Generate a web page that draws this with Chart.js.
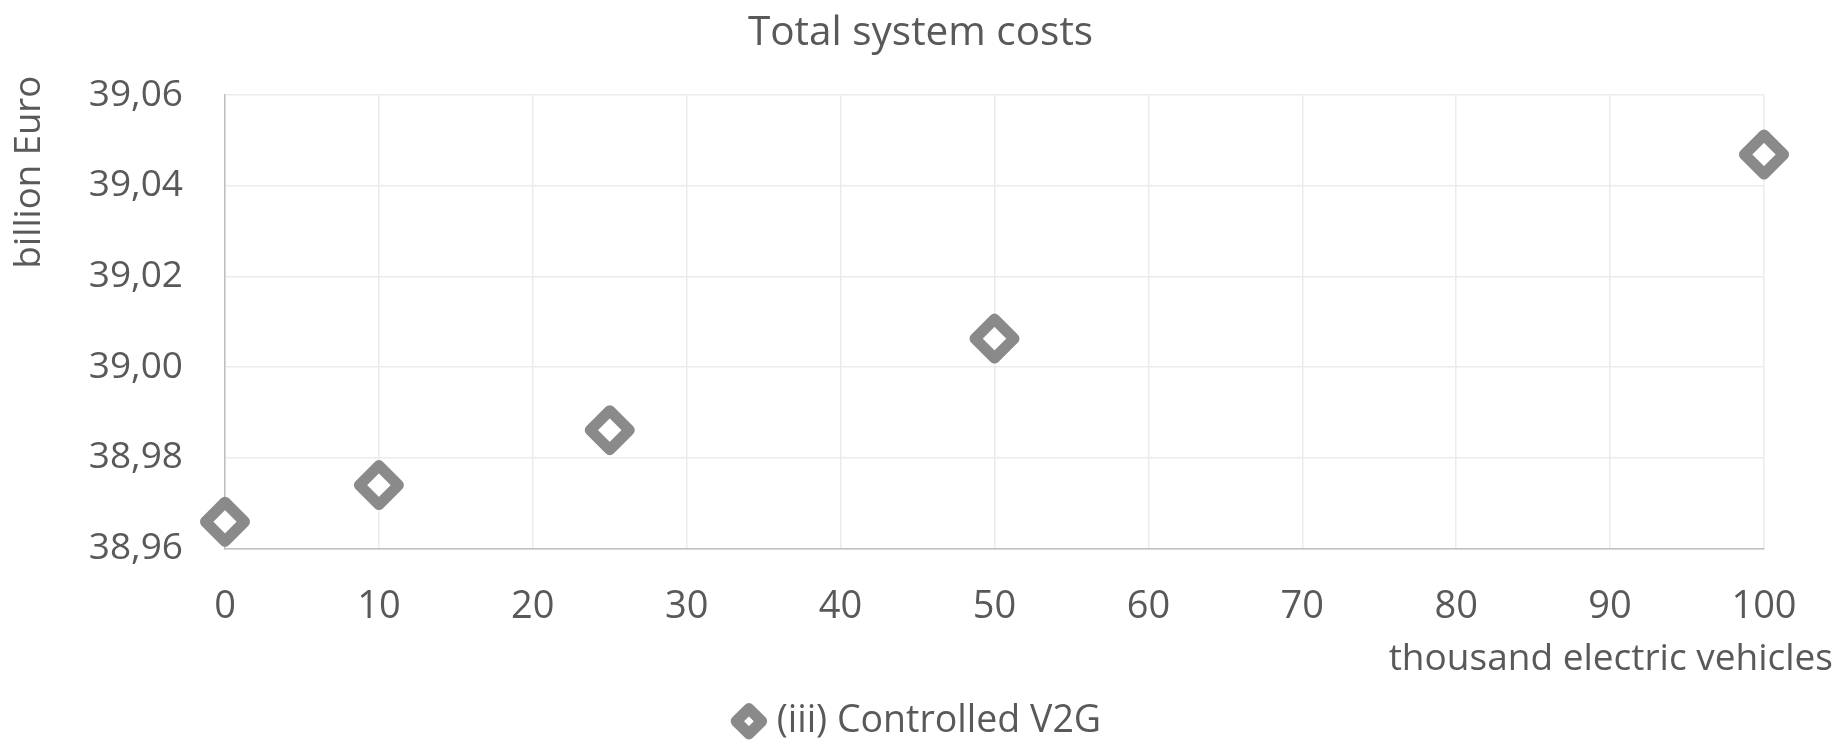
<!DOCTYPE html>
<html>
<head>
<meta charset="utf-8">
<script src="https://cdn.jsdelivr.net/npm/chart.js@4/dist/chart.umd.min.js"></script>
<style>
  html, body { margin: 0; padding: 0; background: #ffffff; }
  #wrap { width: 1841px; height: 741px; }
</style>
</head>
<body>
<div id="wrap"><canvas id="chart" width="1841" height="741"></canvas></div>
<script>
// Number of electric vehicles (thousand) and total system costs (billion Euro)
const evThousands = [0, 10, 25, 50, 100];
const totalCosts = [38.9659, 38.9740, 38.9861, 39.0063, 39.0469];
const seriesName = '(iii) Controlled V2G';

const chartTitle = 'Total system costs';
const yAxisTitle = 'billion Euro';
const xAxisTitle = 'thousand electric vehicles';

const xTicks = { min: 0, max: 100, step: 10 };
const yTicks = { min: 38.96, max: 39.06, step: 0.02 };

const FONT = '"Open Sans", "Noto Sans", sans-serif';
const TEXT = '#595959';
const MARK = '#8a8a8a';

// rounded corners on the diamond markers
const roundJoin = {
  id: 'roundJoin',
  beforeDatasetsDraw(chart) { chart.ctx.lineJoin = 'round'; }
};

// axis titles placed like the spreadsheet layout
const axisTitles = {
  id: 'axisTitles',
  afterDraw(chart) {
    const { ctx, chartArea } = chart;
    ctx.save();
    ctx.fillStyle = TEXT;
    ctx.font = '37px ' + FONT;
    ctx.textBaseline = 'middle';
    ctx.textAlign = 'right';
    ctx.fillText(xAxisTitle, chartArea.right + 69, chartArea.bottom + 111);
    ctx.translate(30, chartArea.top + 77);
    ctx.rotate(-Math.PI / 2);
    ctx.textAlign = 'center';
    ctx.font = '36.5px ' + FONT;
    ctx.fillText(yAxisTitle, 0, 0);
    ctx.restore();
  }
};

new Chart(document.getElementById('chart'), {
  type: 'scatter',
  data: {
    datasets: [{
      label: seriesName,
      data: evThousands.map((x, i) => ({ x, y: totalCosts[i] })),
      pointStyle: 'rectRot',
      pointRadius: 19.5,
      pointHoverRadius: 19.5,
      pointBorderWidth: 11,
      pointBackgroundColor: '#ffffff',
      pointBorderColor: MARK,
      clip: false
    }]
  },
  options: {
    responsive: false,
    animation: false,
    events: [],
    layout: { padding: { left: 77, right: 77, top: 0, bottom: -9 } },
    plugins: {
      tooltip: { enabled: false },
      title: {
        display: true,
        text: chartTitle,
        color: TEXT,
        font: { family: FONT, size: 40.5, weight: 'normal' },
        padding: { top: 9, bottom: 37.5 }
      },
      legend: {
        position: 'bottom',
        labels: {
          usePointStyle: true,
          boxWidth: 18,
          boxHeight: 18,
          padding: 0,
          color: TEXT,
          font: { family: FONT, size: 37.5 },
          generateLabels(chart) {
            const items = Chart.defaults.plugins.legend.labels.generateLabels(chart);
            items.forEach(it => { it.lineJoin = 'round'; it.lineWidth = 11; it.fillStyle = '#ffffff'; });
            return items;
          }
        }
      }
    },
    scales: {
      x: {
        type: 'linear',
        min: xTicks.min,
        max: xTicks.max,
        afterFit(scale) { scale.height = 154; },
        ticks: {
          stepSize: xTicks.step,
          color: TEXT,
          font: { family: FONT, size: 38 },
          padding: 36,
          maxRotation: 0
        },
        grid: { color: '#ebebeb', lineWidth: 1.5, drawTicks: false },
        border: { color: '#bfbfbf', width: 1.5 }
      },
      y: {
        min: yTicks.min,
        max: yTicks.max,
        afterFit(scale) { scale.width = 148; },
        ticks: {
          stepSize: yTicks.step,
          color: TEXT,
          font: { family: FONT, size: 37 },
          padding: 42,
          callback: v => v.toFixed(2).replace('.', ',')
        },
        grid: { color: '#ebebeb', lineWidth: 1.5, drawTicks: false },
        border: { color: '#bfbfbf', width: 1.5 }
      }
    }
  },
  plugins: [roundJoin, axisTitles]
});
</script>
</body>
</html>
